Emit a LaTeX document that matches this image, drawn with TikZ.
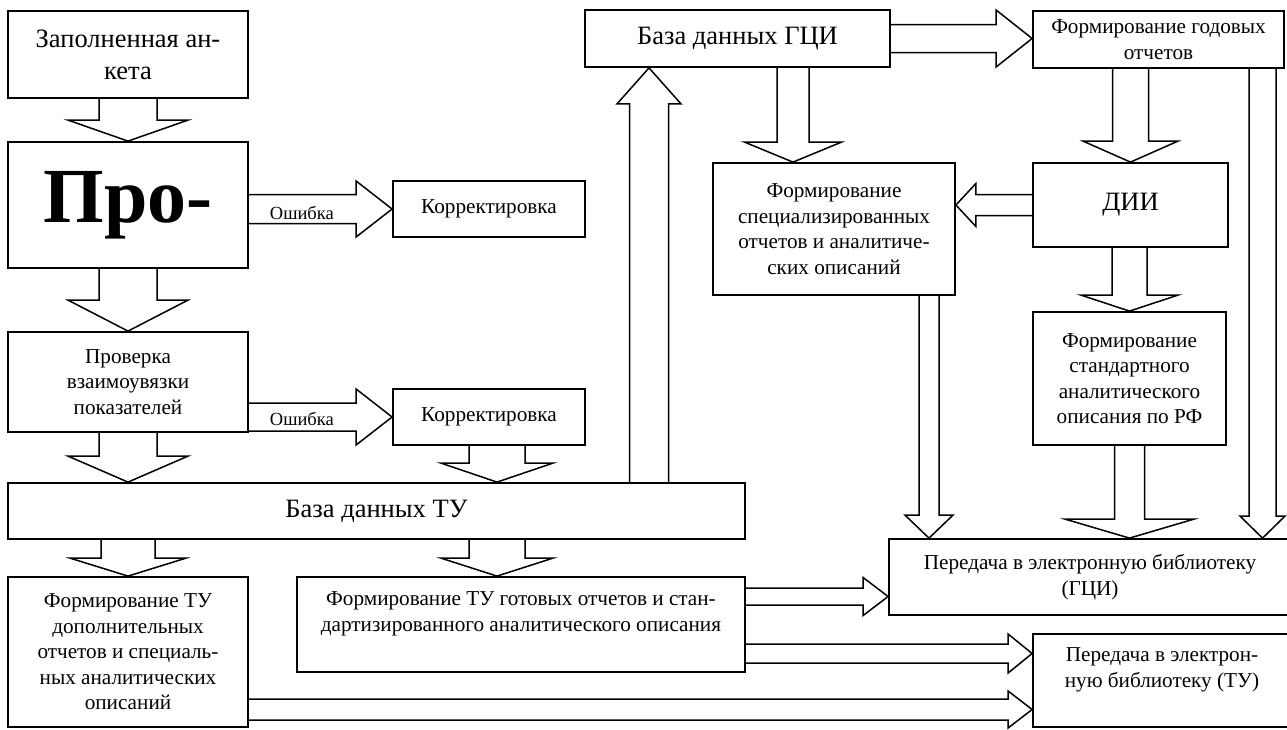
\documentclass[tikz,border=0pt]{standalone}
\usepackage{fontspec}
\setmainfont{Liberation Serif}
\usetikzlibrary{calc}

\newcommand{\blocksize}{\fontsize{21.2pt}{25.5pt}\selectfont}
\newcommand{\bigsize}{\fontsize{26.5pt}{32pt}\selectfont}
\newcommand{\errsize}{\fontsize{18.5pt}{22pt}\selectfont}
\newcommand{\prosize}{\fontsize{78pt}{90pt}\selectfont\bfseries}

% Blockpfeil: von, nach, halbe Schaftbreite, halbe Kopfbreite, Kopflaenge
\newcommand{\hollowarrow}[5]{%
  \coordinate (ha-s) at (#1);
  \coordinate (ha-t) at (#2);
  \coordinate (ha-b) at ($(ha-t)!#5!(ha-s)$);
  \draw[hollow] ($(ha-s)!#3!90:(ha-t)$) -- ($(ha-b)!#3!-90:(ha-s)$) -- ($(ha-b)!#4!-90:(ha-s)$)
    -- (ha-t) -- ($(ha-b)!#4!90:(ha-s)$) -- ($(ha-b)!#3!90:(ha-s)$) -- ($(ha-s)!#3!-90:(ha-t)$);
}

\tikzset{
  block/.style={draw, line width=1.8pt, inner sep=0pt, align=center, font=\blocksize},
  hollow/.style={line width=1.5pt, line join=miter},
  errlabel/.style={font=\errsize, inner sep=0pt},
}

\begin{document}
\begin{tikzpicture}[x=1pt, y=-1pt]
        \useasboundingbox (0,0) rectangle (1287,729);
        \clip (0,0) rectangle (1287,729);

        % linke Spalte
        \node [block, font=\bigsize, minimum width=240pt, minimum height=87pt] (anketa) at (128,54.5) {Заполненная ан-\\кета};
        \node [block, font=\prosize, minimum width=240pt, minimum height=126pt] (pro) at (128,205) {Про-};
        \node [block, minimum width=240pt, minimum height=100pt] (proverka) at (128,382) {Проверка\\взаимоувязки\\показателей};
        \node [block, minimum width=192pt, minimum height=56pt] (korr1) at (489,209) {Корректировка};
        \node [block, minimum width=192pt, minimum height=56pt] (korr2) at (489,417) {Корректировка};
        \node [block, font=\bigsize, minimum width=737pt, minimum height=56pt] (bazaTU) at (376.5,511) {База данных ТУ};
        \node [block, minimum width=240pt, minimum height=150pt] (dopTU) at (128,652) {Формирование ТУ\\дополнительных\\отчетов и специаль-\\ных аналитических\\описаний};
        \node [block, minimum width=448pt, minimum height=95pt] (gotTU) at (521,624.5) {Формирование ТУ готовых отчетов и стан-\\дартизированного аналитического описания\\\mbox{}};

        % rechte Seite
        \node [block, font=\bigsize, minimum width=305pt, minimum height=57pt] (bazaGCI) at (737.5,38.5) {База данных ГЦИ};
        \node [block, minimum width=251pt, minimum height=57pt] (godov) at (1158.5,39.5) {Формирование годовых\\отчетов};
        \node [block, minimum width=242pt, minimum height=132pt] (spec) at (834,229) {Формирование\\специализированных\\отчетов и аналитиче-\\ских описаний};
        \node [block, font=\bigsize, minimum width=195pt, minimum height=84pt] (dii) at (1130.5,205) {ДИИ};
        \node [block, minimum width=193pt, minimum height=133pt] (standRF) at (1129.5,378.5) {Формирование\\стандартного\\аналитического\\описания по РФ};
        \node [block, minimum width=402pt, minimum height=76pt] (peredGCI) at (1090,577) {Передача в электронную библиотеку\\(ГЦИ)};
        \node [block, minimum width=258pt, minimum height=93pt] (peredTU) at (1162,680.5) {Передача в электрон-\\ную библиотеку (ТУ)\\\mbox{}};

        % Startpunkte
        \coordinate (err1) at ([yshift=-4pt]pro.east);
        \coordinate (err2) at ([yshift=-35pt]proverka.east);
        \coordinate (korrdown) at ([xshift=8pt]korr2.south);
        \coordinate (uptu) at ([xshift=272.5pt]bazaTU.north);
        \coordinate (gcidown) at ([xshift=55.5pt]bazaGCI.south);
        \coordinate (godright) at ([xshift=104pt]godov.south);
        \coordinate (specdown) at ([xshift=95pt]spec.south);
        \coordinate (tudown) at ([xshift=-24pt]gotTU.north);
        \coordinate (got1) at ([yshift=28pt]gotTU.east);
        \coordinate (got2) at ([yshift=-29pt]gotTU.east);
        \coordinate (dop1) at ([yshift=-57.5pt]dopTU.east);

        % Pfeile links
        \hollowarrow{anketa.south}{pro.north}{29pt}{60pt}{21pt}
        \hollowarrow{err1}{err1 -| korr1.west}{14.5pt}{28pt}{36pt}
        \hollowarrow{pro.south}{proverka.north}{29pt}{60pt}{31pt}
        \hollowarrow{err2}{err2 -| korr2.west}{14pt}{28pt}{36pt}
        \hollowarrow{proverka.south}{proverka.south |- bazaTU.north}{29pt}{60pt}{26pt}
        \hollowarrow{korrdown}{korrdown |- bazaTU.north}{28pt}{56pt}{19pt}
        \hollowarrow{dopTU.north |- bazaTU.south}{dopTU.north}{27pt}{58pt}{18pt}
        \hollowarrow{tudown |- bazaTU.south}{tudown}{28pt}{56pt}{18pt}
        \hollowarrow{uptu}{uptu |- bazaGCI.south}{19.5pt}{32pt}{36pt}

        % Pfeile rechts
        \hollowarrow{bazaGCI.east}{bazaGCI.east -| godov.west}{14pt}{28.5pt}{36pt}
        \hollowarrow{gcidown}{gcidown |- spec.north}{16pt}{48.5pt}{20pt}
        \hollowarrow{dii.north |- godov.south}{dii.north}{18pt}{47.5pt}{21pt}
        \hollowarrow{godright}{godright |- peredGCI.north}{13.5pt}{22.5pt}{22pt}
        \hollowarrow{dii.west}{dii.west -| spec.east}{10.5pt}{21.5pt}{20pt}
        \hollowarrow{standRF.north |- dii.south}{standRF.north}{17.5pt}{48.5pt}{16pt}
        \hollowarrow{specdown}{specdown |- peredGCI.north}{10pt}{24pt}{23pt}
        \hollowarrow{standRF.south}{standRF.south |- peredGCI.north}{15pt}{64.5pt}{19pt}

        % Pfeile unten
        \hollowarrow{got1}{got1 -| peredGCI.west}{8.5pt}{19pt}{25pt}
        \hollowarrow{got2}{got2 -| peredTU.west}{9.5pt}{19.5pt}{24pt}
        \hollowarrow{dop1}{dop1 -| peredTU.west}{10.5pt}{18.5pt}{24pt}

        % Fehler
        \node [errlabel] (oshibka1) at ($(err1)+(53,4)$) {Ошибка};
        \node [errlabel] (oshibka2) at ($(err2)+(53,2)$) {Ошибка};
\end{tikzpicture}
\end{document}
